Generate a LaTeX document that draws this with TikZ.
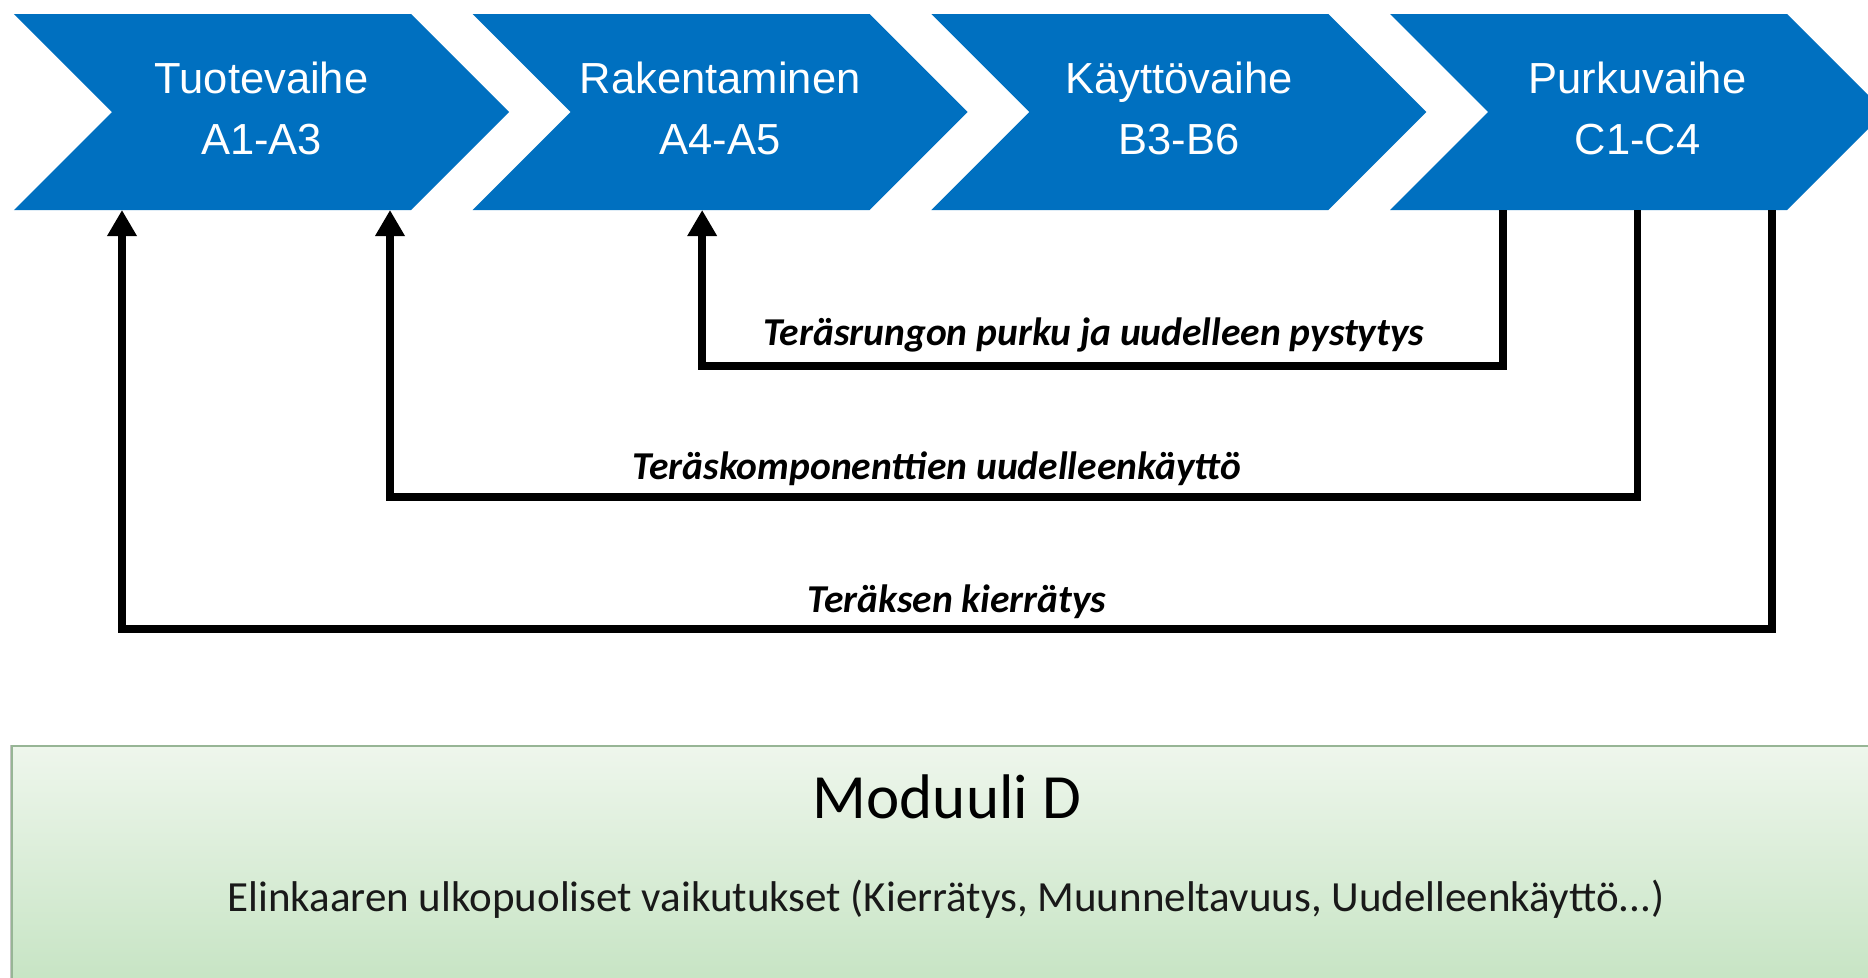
\documentclass[tikz,border=0pt]{standalone}
\usepackage{fontspec}
\setmainfont{Liberation Sans}
\newfontfamily\carlito{Carlito}
\usetikzlibrary{arrows.meta,calc,shadows}
\definecolor{chevblue}{HTML}{0070C0}
\definecolor{gtop}{HTML}{EEF6EC}
\definecolor{gbot}{HTML}{C2E2BF}
\definecolor{gborder}{HTML}{97B595}
\tikzset{
  body/.style={minimum width=299bp, minimum height=196bp, inner sep=0pt, outer sep=0pt},
  chevfill/.style={fill=chevblue},
  chevtext/.style={text=white, font=\fontsize{43.5bp}{50bp}\selectfont, inner sep=0pt},
  arr/.style={line width=7.5bp, line join=miter, -{Triangle[length=26bp,width=28bp]}},
  flowlab/.style={font=\carlito\bfseries\itshape\fontsize{39.5bp}{46bp}\selectfont, inner sep=0pt},
  modbox/.style={draw=gborder, line width=2bp, top color=gtop, bottom color=gbot,
    inner sep=0pt, outer sep=0pt,
    drop shadow={shadow xshift=-2.5bp, shadow yshift=1.5bp, fill=black!45, opacity=0.5}},
  modtitle/.style={font=\carlito\fontsize{63bp}{70bp}\selectfont, inner sep=0pt},
  modsub/.style={font=\carlito\fontsize{43bp}{50bp}\selectfont, inner sep=0pt, text=black!90}
}
\begin{document}
\begin{tikzpicture}[x=1bp,y=-1bp]
\useasboundingbox (0,0) rectangle (1868,977);
\clip (0,0) rectangle (1868,977);
\fill[white] (0,0) rectangle (1868,977);

% chevron bodies (named nodes)
\node[body] (c1) at (261.5,112) {};
\node[body] (c2) at (720.17,112) {};
\node[body] (c3) at (1178.83,112) {};
\node[body] (c4) at (1637.5,112) {};

\foreach \c in {c1,c2,c3,c4}{
  \fill[chevfill] ($(\c.north west)+(-98,0)$) -- (\c.north east) -- ($(\c.east)+(98,0)$)
    -- (\c.south east) -- ($(\c.south west)+(-98,0)$) -- (\c.west) -- cycle;
}

\node[chevtext, anchor=base] (c1a) at ($(c1.center)+(0,-19)$) {Tuotevaihe};
\node[chevtext, anchor=base] (c1b) at ($(c1.center)+(0,42)$) {A1-A3};
\node[chevtext, anchor=base] (c2a) at ($(c2.center)+(0,-19)$) {Rakentaminen};
\node[chevtext, anchor=base] (c2b) at ($(c2.center)+(0,42)$) {A4-A5};
\node[chevtext, anchor=base] (c3a) at ($(c3.center)+(0,-19)$) {Käyttövaihe};
\node[chevtext, anchor=base] (c3b) at ($(c3.center)+(0,42)$) {B3-B6};
\node[chevtext, anchor=base] (c4a) at ($(c4.center)+(0,-19)$) {Purkuvaihe};
\node[chevtext, anchor=base] (c4b) at ($(c4.center)+(0,42)$) {C1-C4};

% feedback arrows
\draw[arr] ($(c4.south west)+(15,0)$) -- ++(0,156) -| ($(c2.south)+(-18,0)$);
\draw[arr] (c4.south) -- ++(0,287) -| ($(c1.south east)+(-21,0)$);
\draw[arr] ($(c4.south east)+(-15,0)$) -- ++(0,419) -| ($(c1.south west)+(10,0)$);

\node[flowlab, anchor=base] (l3) at (1094,345) {Teräsrungon purku ja uudelleen pystytys};
\node[flowlab, anchor=base] (l2) at (937,479) {Teräskomponenttien uudelleenkäyttö};
\node[flowlab, anchor=base] (l1) at (957,612) {Teräksen kierrätys};

% module D box
\node[modbox, anchor=north west, minimum width=1890bp, minimum height=265bp] (D) at (12,746) {};
\node[modtitle, anchor=base] (Dt) at (947,818) {Moduuli D};
\node[modsub, anchor=base] (Ds) at (946,911) {Elinkaaren ulkopuoliset vaikutukset (Kierrätys, Muunneltavuus, Uudelleenkäyttö...)};
\end{tikzpicture}
\end{document}
